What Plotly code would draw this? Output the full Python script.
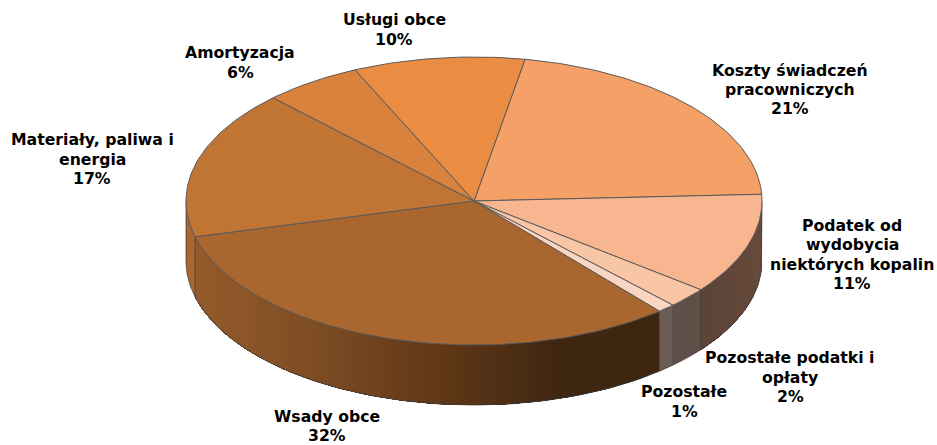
import math
import plotly.graph_objects as go

label_lines = [["Koszty świadczeń", "pracowniczych"], ["Podatek od", "wydobycia", "niektórych kopalin"],
               ["Pozostałe podatki i", "opłaty"], ["Pozostałe"], ["Wsady obce"],
               ["Materiały, paliwa i", "energia"], ["Amortyzacja"], ["Usługi obce"]]
values = [21.4, 11.3, 2.3, 1.0, 32.1, 16.7, 5.5, 9.6]
shown = [21, 11, 2, 1, 32, 17, 6, 10]
top_colors = ["#F4A066", "#F7B590", "#F8C5A6", "#F9D5C2", "#A9672F", "#C07535", "#D8823D", "#EA8D42"]
wall_stops = [["#64483A"], ["#6A4C3D", "#64483A", "#5C4437"], ["#5F5047"], ["#6A5C52"],
              ["#3F2611", "#3F2611", "#603717", "#7A4A22", "#8C5628", "#955A2A"],
              ["#A9672F"], ["#A9672F"], ["#A9672F"]]
label_x = [790, 852, 790, 684, 327, 92, 240, 394]
label_y = [89.5, 254.5, 377, 401.5, 426, 159, 62.5, 29.5]

CX, CY, RX, RY, DEPTH = 474, 201, 288, 144, 60
START = 10.2
LINE_GAP = 19.4
SEAM = "rgba(60,60,60,0.75)"


def pt(a, dy=0):
    r = math.radians(a)
    return CX + RX * math.sin(r), CY - RY * math.cos(r) + dy


def stop_color(stops, t):
    if len(stops) == 1:
        return stops[0]
    f = t * (len(stops) - 1)
    i = min(int(f), len(stops) - 2)
    f -= i
    a = [int(stops[i][j:j + 2], 16) for j in (1, 3, 5)]
    b = [int(stops[i + 1][j:j + 2], 16) for j in (1, 3, 5)]
    return "rgb(%d,%d,%d)" % tuple(round(x + (y - x) * f) for x, y in zip(a, b))


total = sum(values)
bounds = [START]
for v in values:
    bounds.append(bounds[-1] + v / total * 360)

fig = go.Figure()
common = dict(mode="lines", hoverinfo="skip", showlegend=False)

# walls: only the front half (90..270 deg) is visible
for i in range(len(values)):
    a0, a1 = max(bounds[i], 90), min(bounds[i + 1], 270)
    if a1 <= a0:
        continue
    n = 1 if len(wall_stops[i]) == 1 else max(1, int((a1 - a0) / 1.5))
    for k in range(n):
        # every band runs to the slice's far end, so later bands paint over it without gaps
        s0 = a0 + (a1 - a0) * k / n
        c = stop_color(wall_stops[i], (k + .5) / n)
        m = max(2, int(a1 - s0))
        arc = [s0 + (a1 - s0) * j / m for j in range(m + 1)]
        xy = [pt(a) for a in arc] + [pt(a, DEPTH) for a in reversed(arc)]
        fig.add_trace(go.Scatter(x=[p[0] for p in xy], y=[p[1] for p in xy], fill="toself",
                                 fillcolor=c, line=dict(width=0), **common))
    if a0 == bounds[i]:
        p, q = pt(a0), pt(a0, DEPTH)
        fig.add_trace(go.Scatter(x=[p[0], q[0]], y=[p[1], q[1]],
                                 line=dict(color=SEAM, width=1), **common))

# outer wall outline, from the right edge round the front to the left edge
arc = [90 + j for j in range(181)]
xy = [pt(90)] + [pt(a, DEPTH) for a in arc] + [pt(270)]
fig.add_trace(go.Scatter(x=[p[0] for p in xy], y=[p[1] for p in xy],
                         line=dict(color=SEAM, width=1), **common))

# top slices
for i in range(len(values)):
    a0, a1 = bounds[i], bounds[i + 1]
    n = max(2, int(a1 - a0))
    xy = [(CX, CY)] + [pt(a0 + (a1 - a0) * j / n) for j in range(n + 1)] + [(CX, CY)]
    fig.add_trace(go.Scatter(x=[p[0] for p in xy], y=[p[1] for p in xy], fill="toself",
                             fillcolor=top_colors[i], line=dict(color="#5a5a5a", width=1), **common))

for i in range(len(values)):
    lines = label_lines[i] + [f"{shown[i]}%"]
    for k, text in enumerate(lines):
        fig.add_annotation(x=label_x[i], y=label_y[i] + (k - (len(lines) - 1) / 2) * LINE_GAP,
                           text=text, showarrow=False,
                           font=dict(family="DejaVu Sans", size=15.7, color="#000000", weight="bold"),
                           align="center", xanchor="center", yanchor="middle")

fig.update_xaxes(range=[0, 937], visible=False, fixedrange=True)
fig.update_yaxes(range=[445, 0], visible=False, fixedrange=True)
fig.update_layout(width=937, height=445, margin=dict(l=0, r=0, t=0, b=0),
                  paper_bgcolor="white", plot_bgcolor="white", showlegend=False)
fig.write_html("out.html", config={"displayModeBar": False},
               post_script="document.body.style.margin='0';")
